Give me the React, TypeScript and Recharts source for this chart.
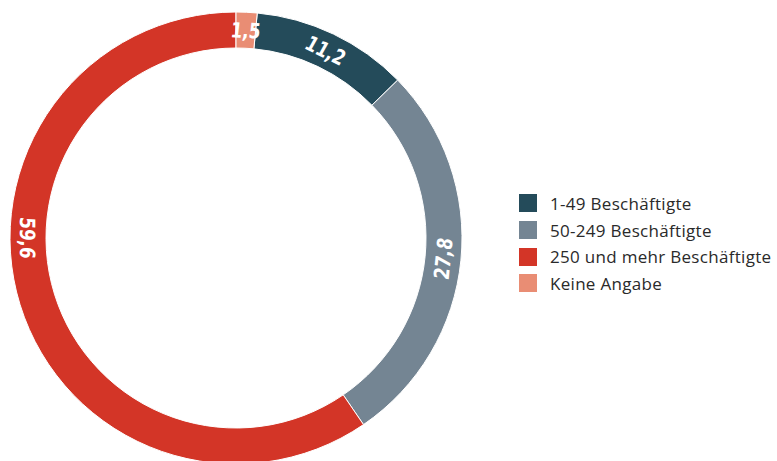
import React from "react";
import { PieChart, Pie, Cell } from "recharts";

const categories = [
  "1-49 Beschäftigte",
  "50-249 Beschäftigte",
  "250 und mehr Beschäftigte",
  "Keine Angabe",
];
const values = [11.2, 27.8, 59.6, 1.5];
const colors = ["#244b5a", "#748593", "#d33527", "#e98d74"];

const data = categories.map((name, i) => ({ name, value: values[i] }));
const total = values.reduce((a, b) => a + b, 0);
const lastShare = values[values.length - 1] / total;
const START = 90 - lastShare * 360;

const RAD = Math.PI / 180;

const renderLabel = (props: any) => {
  const { cx, cy, innerRadius, outerRadius, startAngle, endAngle, value } = props;
  const lo = Math.min(startAngle, endAngle);
  const hi = Math.max(startAngle, endAngle);
  let angle = (startAngle + endAngle) / 2;
  if (lo <= -180 && hi >= -180) angle = -180;
  const r = (innerRadius + outerRadius) / 2;
  const x = cx + r * Math.cos(angle * RAD);
  const y = cy - r * Math.sin(angle * RAD);
  let rot = 90 - angle;
  while (rot > 180) rot -= 360;
  while (rot <= -180) rot += 360;
  if (rot > 90) rot -= 180;
  if (rot <= -90) rot += 180;
  const txt = Number(value).toFixed(1).replace(".", ",");
  return (
    <g transform={`translate(${x} ${y}) rotate(${rot}) scale(0.8 1) skewX(-5)`}>
      <text
        x={0}
        y={0}
        fill="#ffffff"
        fontSize={21}
        fontWeight="bold"
        fontFamily="'DejaVu Sans', sans-serif"
        textAnchor="middle"
        dominantBaseline="central"
      >
        {txt}
      </text>
    </g>
  );
};

export default function App() {
  return (
    <div style={{ position: "absolute", left: 0, top: 0, width: 777, height: 461, background: "#fff" }}>
      <PieChart width={777} height={461} margin={{ top: 0, right: 0, bottom: 0, left: 0 }}>
        <Pie
          data={data}
          dataKey="value"
          nameKey="name"
          cx={236}
          cy={238}
          innerRadius={190}
          outerRadius={226}
          startAngle={START}
          endAngle={START - 360}
          stroke="#ffffff"
          strokeWidth={1}
          label={renderLabel}
          labelLine={false}
          isAnimationActive={false}
        >
          {data.map((d, i) => (
            <Cell key={d.name} fill={colors[i]} />
          ))}
        </Pie>
      </PieChart>
      <div
        style={{
          position: "absolute",
          left: 519,
          top: 190,
          fontFamily: "'Open Sans', sans-serif",
          fontSize: 17,
          letterSpacing: 0.3,
          color: "#2a2a2a",
          whiteSpace: "nowrap",
        }}
      >
        {categories.map((c, i) => (
          <div key={c} style={{ display: "flex", alignItems: "center", height: 26.7 }}>
            <span
              style={{
                display: "inline-block",
                width: 18,
                height: 18,
                background: colors[i],
                marginRight: 13,
              }}
            />
            <span>{c}</span>
          </div>
        ))}
      </div>
    </div>
  );
}
